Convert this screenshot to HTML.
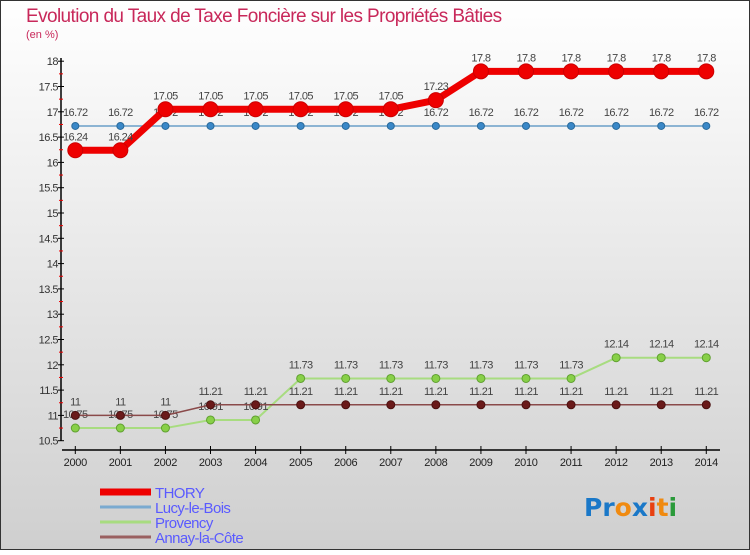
<!DOCTYPE html>
<html><head><meta charset="utf-8"><style>
body{margin:0;width:750px;height:550px;overflow:hidden;font-family:"Liberation Sans",sans-serif}
</style></head><body>
<svg width="750" height="550" xmlns="http://www.w3.org/2000/svg">
<defs><linearGradient id="bg" x1="0" y1="0" x2="0" y2="1"><stop offset="0" stop-color="#ffffff"/><stop offset="1" stop-color="#cfcfcf"/></linearGradient></defs>
<rect x="0.5" y="0.5" width="749" height="549" fill="url(#bg)" stroke="#333"/>
<text x="26" y="22" font-size="19" fill="#c8285a" letter-spacing="-0.6">Evolution du Taux de Taxe Foncière sur les Propriétés Bâties</text>
<text x="26" y="38" font-size="11" fill="#c8285a">(en %)</text>
<g id="axes"></g>
<g id="series"></g>
<g id="legend"></g>
<g font-size="25" font-weight="bold" font-family="'DejaVu Sans',sans-serif">
<text x="584" y="516"><tspan fill="#1a78c8">Pr</tspan><tspan fill="#f08a10">o</tspan><tspan fill="#1a78c8">x</tspan><tspan fill="#e84010">i</tspan><tspan fill="#f08a10">t</tspan><tspan fill="#2a9a3a">i</tspan></text>
</g>
</svg>
<script>
const years=[2000,2001,2002,2003,2004,2005,2006,2007,2008,2009,2010,2011,2012,2013,2014];
const yTicks=[10.5,11,11.5,12,12.5,13,13.5,14,14.5,15,15.5,16,16.5,17,17.5,18];
const thory=[16.24,16.24,17.05,17.05,17.05,17.05,17.05,17.05,17.23,17.8,17.8,17.8,17.8,17.8,17.8];
const lucy=[16.72,16.72,16.72,16.72,16.72,16.72,16.72,16.72,16.72,16.72,16.72,16.72,16.72,16.72,16.72];
const provency=[10.75,10.75,10.75,10.91,10.91,11.73,11.73,11.73,11.73,11.73,11.73,11.73,12.14,12.14,12.14];
const annay=[11,11,11,11.21,11.21,11.21,11.21,11.21,11.21,11.21,11.21,11.21,11.21,11.21,11.21];
const NS="http://www.w3.org/2000/svg";
const X=i=>75.3+i*45.07;
const Y=v=>440.7-(v-10.5)*50.6;
function mk(tag,attrs,parent,txt){const e=document.createElementNS(NS,tag);for(const k in attrs)e.setAttribute(k,attrs[k]);if(txt!==undefined)e.textContent=txt;parent.appendChild(e);return e;}
const ax=document.getElementById('axes');
let yl=mk('line',{x1:61,y1:58,x2:61,y2:441,stroke:'#000','stroke-width':1.5},ax);


yTicks.forEach((v,k)=>{
 const t=mk('line',{x1:58,x2:64,y1:Y(v),y2:Y(v),stroke:'#000'},ax);
 
 
 if(k<yTicks.length-1){
  const m=mk('line',{x1:59,x2:63,y1:Y(v+0.25),y2:Y(v+0.25),stroke:'#e00'},ax);
  
  
 }
 const l=mk('text',{x:58,y:Y(v)+4,'font-size':11,fill:'#333','text-anchor':'end','letter-spacing':'-0.5'},ax,String(v));
 
 
});
let xl=mk('line',{x1:62,y1:450,x2:720,y2:450,stroke:'#000','stroke-width':1.5},ax);


years.forEach((y,i)=>{
 const t=mk('line',{x1:X(i),x2:X(i),y1:446,y2:454,stroke:'#000'},ax);
 
 
 const l=mk('text',{x:X(i),y:466,'font-size':11,fill:'#222','text-anchor':'middle','letter-spacing':'-0.3'},ax,String(y));
 
 
});
const sg=document.getElementById('series');
function series(name,vals,color,lw,dot,dotFill,dotStroke){
 const g=mk('g',{},sg);
 
 
 const p=mk('polyline',{points:vals.map((v,i)=>X(i)+','+Y(v)).join(' '),fill:'none',stroke:color,'stroke-width':lw,'stroke-linejoin':'round'},g);
 
 
 vals.forEach((v,i)=>{
  const c=mk('circle',{cx:X(i),cy:Y(v),r:dot,fill:dotFill,stroke:dotStroke,'stroke-width':1},g);
  
  
  const t=mk('text',{x:X(i),y:Y(v)-10,'font-size':11,fill:'#444','text-anchor':'middle','letter-spacing':'-0.6'},g,String(v));
  
  
 });
}
series('lucy-le-bois',lucy,'#6a9ec8',1.5,3.5,'#3a88c8','#2a6a9a');
series('provency',provency,'#a8dc80',2,4,'#88d048','#60a030');
series('annay-la-cote',annay,'#8a4a4a',1.5,4,'#6a1a1a','#4a1010');
series('thory',thory,'#ee0000',7,7.5,'#ee0000','#cc0000');
const lg=document.getElementById('legend');
const legend=[['THORY','#ee0000',7],['Lucy-le-Bois','#7aaad0',3],['Provency','#a8dc80',3],['Annay-la-Côte','#9a6060',3]];
legend.forEach((e,i)=>{
 const y=492+i*15;
 const g=mk('g',{},lg);
 
 
 mk('line',{x1:100,x2:151,y1:y,y2:y,stroke:e[1],'stroke-width':e[2]},g);
 mk('text',{x:155,y:y+6,'font-size':15,fill:'#5a5aff','letter-spacing':'-0.6'},g,e[0]);
});
</script>
</body></html>
